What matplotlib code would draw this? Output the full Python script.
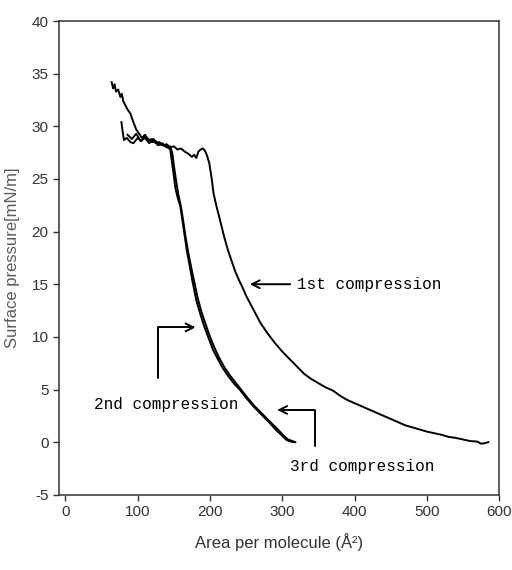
import matplotlib.pyplot as plt

plt.rcParams['axes.unicode_minus'] = False

# 1st compression isotherm (area in A^2, pressure in mN/m)
area_1st = [64, 66, 68, 70, 73, 76, 78, 80, 83, 86, 90, 94, 98, 102, 106, 110,
            115, 120, 125, 130, 135, 140, 145, 150, 155, 160, 165, 170, 175, 178,
            181, 184, 187, 190, 193, 196, 199, 202, 205, 209, 212, 216, 220, 225,
            230, 235, 240, 245, 250, 260, 270, 280, 290, 300, 310, 320, 330, 340,
            350, 360, 370, 380, 390, 400, 410, 420, 430, 440, 450, 460, 470, 480,
            490, 500, 510, 520, 530, 540, 550, 560, 570, 575, 580, 585]
pres_1st = [34.2, 33.6, 34.0, 33.3, 33.5, 32.8, 33.1, 32.4, 32.0, 31.6, 31.2, 30.4,
            29.7, 29.3, 28.9, 29.2, 28.7, 28.8, 28.4, 28.5, 28.2, 28.3, 28.0, 28.1,
            27.8, 27.9, 27.6, 27.4, 27.1, 27.3, 27.0, 27.6, 27.8, 27.9, 27.7, 27.2,
            26.5, 25.2, 23.6, 22.4, 21.6, 20.5, 19.4, 18.2, 17.2, 16.2, 15.4, 14.7,
            13.9, 12.6, 11.3, 10.3, 9.4, 8.6, 7.9, 7.2, 6.5, 6.0, 5.6, 5.2, 4.9, 4.4,
            4.0, 3.7, 3.4, 3.1, 2.8, 2.5, 2.2, 1.9, 1.6, 1.4, 1.2, 1.0, 0.85, 0.7,
            0.5, 0.4, 0.25, 0.1, 0.05, -0.15, -0.1, 0.0]

# 2nd compression
area_2nd = [77.5, 79, 81, 85, 90, 94, 100, 105, 110, 115, 120, 125, 130, 135, 140,
            145, 147, 150, 152, 155, 159, 162, 165, 168, 172, 176, 181, 186, 192,
            198, 204, 210, 218, 226, 234, 241, 250, 260, 270, 283, 292, 300, 306,
            312, 316]
pres_2nd = [30.4, 29.6, 28.7, 28.9, 28.5, 28.4, 28.9, 28.6, 29.1, 28.7, 28.5, 28.6,
            28.3, 28.2, 28.1, 27.8, 26.8, 25.3, 24.2, 23.3, 22.4, 21.0, 19.6, 18.2,
            16.7, 15.2, 13.5, 12.3, 11.0, 9.9, 8.8, 8.0, 7.0, 6.2, 5.5, 5.0, 4.2,
            3.4, 2.7, 1.8, 1.1, 0.6, 0.2, 0.05, 0.0]

# 3rd compression
area_3rd = [86, 92, 98, 104, 110, 116, 122, 128, 134, 140, 145, 148, 150, 153, 156,
            160, 163, 166, 170, 174, 178, 183, 188, 194, 200, 206, 212, 220, 228,
            236, 244, 252, 262, 272, 285, 294, 302, 308, 314, 318]
pres_3rd = [29.2, 28.8, 29.3, 28.6, 28.9, 28.4, 28.8, 28.2, 28.4, 28.0, 28.1, 27.4,
            26.3, 24.9, 23.6, 22.3, 21.0, 19.6, 18.0, 16.6, 15.3, 13.7, 12.4, 11.2,
            10.0, 9.0, 8.1, 7.1, 6.3, 5.6, 4.9, 4.2, 3.4, 2.7, 1.8, 1.2, 0.6, 0.25,
            0.1, 0.0]

x_ticks = [0, 100, 200, 300, 400, 500, 600]
y_ticks = [-5, 0, 5, 10, 15, 20, 25, 30, 35, 40]

fig = plt.figure(figsize=(5.12, 5.70), dpi=100)
ax = fig.add_axes([0.115, 0.132, 0.86, 0.831])

ax.plot(area_1st, pres_1st, color='black', lw=1.4)
ax.plot(area_2nd, pres_2nd, color='black', lw=1.4)
ax.plot(area_3rd, pres_3rd, color='black', lw=1.4)

ax.set_xlim(-9, 600)
ax.set_ylim(-5, 40)
ax.set_xticks(x_ticks)
ax.set_yticks(y_ticks)

tick_font = ['Liberation Sans Narrow', 'Liberation Sans']
for lab in ax.get_xticklabels() + ax.get_yticklabels():
    lab.set_family(tick_font)
    lab.set_fontsize(11)
    lab.set_color('#333333')
ax.tick_params(direction='out', length=4, width=1, color='#333333')

for side in ['top', 'right', 'left', 'bottom']:
    ax.spines[side].set_color('#333333')
    ax.spines[side].set_linewidth(1.1)

ax.set_ylabel('Surface pressure[mN/m]', family=tick_font, fontsize=12,
              color='#5a5a5a', labelpad=8)
ax.set_xlabel('Area per molecule (Å²)', family=tick_font, fontsize=12,
              color='#333333', labelpad=10)

note_font = ['Liberation Mono', 'DejaVu Sans Mono']
arrow = dict(arrowstyle='->', color='black', lw=1.4, mutation_scale=14,
             shrinkA=0, shrinkB=0)
elbow = dict(arrow, connectionstyle='angle,angleA=90,angleB=0,rad=0')

ax.annotate('', xy=(255, 15.0), xytext=(311, 15.0), arrowprops=arrow)
ax.text(320, 15.0, '1st compression', family=note_font, fontsize=11.5,
        va='center', ha='left')

ax.annotate('', xy=(180, 10.9), xytext=(128.5, 6.1), arrowprops=elbow)
ax.text(39, 3.6, '2nd compression', family=note_font, fontsize=11.5,
        va='center', ha='left')

ax.annotate('', xy=(293, 3.06), xytext=(345.5, -0.4), arrowprops=elbow)
ax.text(310, -2.3, '3rd compression', family=note_font, fontsize=11.5,
        va='center', ha='left')

fig.savefig('out.png', dpi=100)
